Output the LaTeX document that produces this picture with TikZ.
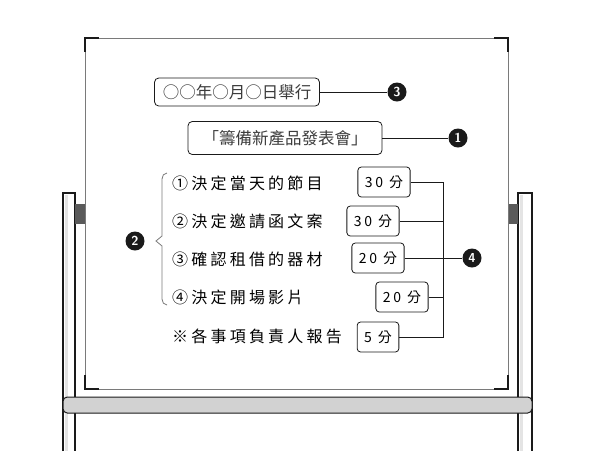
\documentclass[tikz,border=0pt]{standalone}
\usepackage{fontspec}
\newfontfamily\cjk{Noto Sans CJK TC}
\newfontfamily\hand{Noto Sans CJK TC}[LetterSpace=20]
\usepackage{tikz}
\usetikzlibrary{positioning,calc}
\definecolor{ink}{HTML}{1A1A1A}
\definecolor{frame}{HTML}{7A7A7A}
\definecolor{traygray}{HTML}{D2D2D2}
\definecolor{clipgray}{HTML}{5A5A5A}
\definecolor{bracegray}{HTML}{7A7A7A}
\definecolor{postpale}{HTML}{E4E4E4}
\tikzset{
  sign/.style={draw=ink, rounded corners=1.5mm, line width=.8pt, fill=white, inner sep=2pt,
    font=\cjk\fontsize{16.5}{16.5}\selectfont, text=ink!85},
  mins/.style={draw=ink, rounded corners=1.2mm, line width=.8pt, fill=white, inner xsep=7pt,
    minimum height=30pt, font=\hand\fontsize{14}{14}\selectfont},
  item/.style={anchor=west, inner sep=0pt, font=\hand\fontsize{16}{16}\selectfont},
  badge/.style={circle, fill=ink, text=white, inner sep=0pt, minimum size=19pt,
    font=\sffamily\bfseries\fontsize{13}{13}\selectfont},
  link/.style={draw=ink, line width=.9pt},
  corner/.style={draw=ink, line width=1.8pt}
}

\begin{document}
\begin{tikzpicture}[x=1pt,y=-1pt]
  \useasboundingbox (0,0) rectangle (600,451);
  \fill[white] (0,0) rectangle (600,451);

  % stand posts
  \foreach \l/\r in {63/75,518/532}{
    \fill[white] (\l,193) rectangle (\r,451);
    \fill[postpale] (\l+2,195) rectangle (\l+5,451);
    \draw[ink,line width=1.5pt] (\l,451) -- (\l,193) -- (\r,193) -- (\r,451);
  }
  \fill[clipgray] (75,204) rectangle (85,224);
  \fill[clipgray] (508,204) rectangle (518,224);

  % board
  \draw[frame,line width=1pt,fill=white] (85,38) rectangle (508,389);
  \draw[corner] (85,52) |- (99,38);
  \draw[corner] (494,38) -| (508,52);
  \draw[corner] (85,375) |- (99,389);
  \draw[corner] (494,389) -| (508,375);

  % tray
  \draw[ink,line width=1pt,fill=traygray,rounded corners=1.5mm] (63,397) rectangle (532,413);

  % headings
  \node[sign,minimum width=165pt,minimum height=28pt] (date) at (237,92) {○○年○月○日舉行};
  \node[sign,minimum width=194pt,minimum height=33pt] (title) at (285,138) {「籌備新產品發表會」};
  \node[badge] (b3) at (397,92) {3};
  \node[badge] (b1) at (458,138) {1};
  \draw[link] (date.east) -- (b3);
  \draw[link] (title.east) -- (b1);

  % agenda
  \node[item] (i1) at (172,183) {①決定當天的節目};
  \node[item] (i2) at (172,221) {②決定邀請函文案};
  \node[item] (i3) at (172,259) {③確認租借的器材};
  \node[item] (i4) at (172,297) {④決定開場影片};
  \node[item] (i5) at (172,336) {※各事項負責人報告};

  \node[mins] (m1) at (384,182) {30 分};
  \node[mins] (m2) at (373,221) {30 分};
  \node[mins] (m3) at (378,258) {20 分};
  \node[mins] (m4) at (402,297) {20 分};
  \node[mins] (m5) at (378,337) {5 分};

  \node[badge] (b2) at (135,241) {2};
  \node[badge] (b4) at (472,258) {4};

  \draw[bracegray,line width=.8pt] (167,173) to[out=180,in=90] (162,179) -- (162,236)
    -- (156,241) -- (162,246) -- (162,299) to[out=-90,in=180] (167,305);

  \coordinate (bus) at (443,0);
  \draw[link] (m1.east) -- (m1.east -| bus) -- (m5.east -| bus) -- (m5.east);
  \draw[link] (m2.east) -- (m2.east -| bus);
  \draw[link] (m4.east) -- (m4.east -| bus);
  \draw[link] (m3.east) -- (b4);
\end{tikzpicture}
\end{document}
